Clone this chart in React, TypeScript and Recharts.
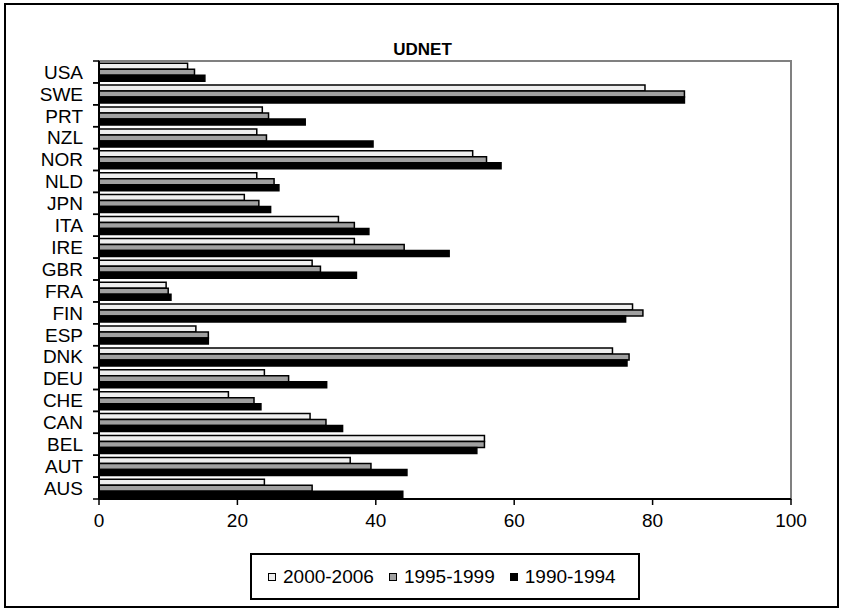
import { BarChart, Bar, XAxis, YAxis, ReferenceArea, Legend } from 'recharts';

// countries, listed top to bottom as drawn
const countries = [
  'USA', 'SWE', 'PRT', 'NZL', 'NOR', 'NLD', 'JPN', 'ITA', 'IRE', 'GBR',
  'FRA', 'FIN', 'ESP', 'DNK', 'DEU', 'CHE', 'CAN', 'BEL', 'AUT', 'AUS',
];

const p2000_2006 = [
  12.8, 78.9, 23.6, 22.8, 54.0, 22.8, 21.0, 34.6, 36.9, 30.8,
  9.7, 77.1, 14.0, 74.2, 23.9, 18.7, 30.5, 55.7, 36.3, 23.9,
];
const p1995_1999 = [
  13.8, 84.6, 24.5, 24.2, 56.0, 25.3, 23.1, 36.9, 44.1, 32.0,
  10.0, 78.6, 15.8, 76.6, 27.4, 22.4, 32.8, 55.7, 39.3, 30.8,
];
const p1990_1994 = [
  15.3, 84.6, 29.8, 39.6, 58.1, 26.0, 24.8, 39.0, 50.6, 37.2,
  10.4, 76.1, 15.8, 76.3, 32.9, 23.4, 35.2, 54.6, 44.5, 43.9,
];

const xTicks = [0, 20, 40, 60, 80, 100];

const series = [
  { key: 'a', name: '2000-2006', fill: '#eeeeee' },
  { key: 'b', name: '1995-1999', fill: '#a0a0a0' },
  { key: 'c', name: '1990-1994', fill: '#000000' },
];

const data = countries.map((c, i) => ({
  country: c,
  a: p2000_2006[i],
  b: p1995_1999[i],
  c: p1990_1994[i],
}));

const W = 843;
const H = 611;
const MARGIN = { top: 61, right: 52, left: 0, bottom: 82 };
const X_AXIS_H = 30;
const Y_AXIS_W = 99;
const FONT = '"Liberation Sans", Arial, sans-serif';
const BAND = (H - MARGIN.top - MARGIN.bottom - X_AXIS_H) / countries.length;

// category label at the band centre, tick marks on the band edges
function CountryTick(props: any) {
  const { x, y, payload } = props;
  const axisX = x + 16;
  return (
    <g>
      <line x1={axisX - 6} x2={axisX} y1={y - BAND / 2} y2={y - BAND / 2} stroke="#000" strokeWidth={1.5} />
      <line x1={axisX - 6} x2={axisX} y1={y + BAND / 2} y2={y + BAND / 2} stroke="#000" strokeWidth={1.5} />
      <text x={x} y={y} dy="0.36em" textAnchor="end" fontSize={19} fontFamily={FONT} fill="#000">
        {payload.value}
      </text>
    </g>
  );
}

function LegendBox() {
  return (
    <div
      style={{
        boxSizing: 'border-box',
        width: 390,
        height: 47,
        border: '2px solid #000',
        background: '#fff',
        display: 'flex',
        alignItems: 'center',
        paddingLeft: 16,
        fontFamily: FONT,
        fontSize: 19,
        color: '#000',
      }}
    >
      {series.map((s) => (
        <div key={s.key} style={{ display: 'flex', alignItems: 'center', marginRight: 15 }}>
          <span
            style={{
              display: 'inline-block',
              boxSizing: 'border-box',
              width: 8,
              height: 8,
              border: '1px solid #000',
              background: s.fill,
              marginRight: 7,
            }}
          />
          <span>{s.name}</span>
        </div>
      ))}
    </div>
  );
}

export default function App() {
  return (
    <div style={{ position: 'absolute', left: 0, top: 0, width: W, height: H, background: '#fff' }}>
      <div
        style={{
          position: 'absolute',
          left: 4,
          top: 3,
          width: 835,
          height: 605,
          boxSizing: 'border-box',
          border: '2px solid #000',
        }}
      />
      <div
        style={{
          position: 'absolute',
          left: 0,
          width: 845,
          top: 40,
          textAlign: 'center',
          fontFamily: FONT,
          fontWeight: 'bold',
          fontSize: 17,
          lineHeight: '20px',
        }}
      >
        UDNET
      </div>
      <div style={{ position: 'absolute', left: 0, top: 0 }}>
        <BarChart
          width={W}
          height={H}
          data={data}
          layout="vertical"
          margin={MARGIN}
          barCategoryGap="10%"
          barGap={0}
        >
          <ReferenceArea x1={0} x2={100} fill="none" fillOpacity={0} stroke="#808080" strokeWidth={2} />
          <XAxis
            type="number"
            domain={[0, 100]}
            ticks={xTicks}
            height={X_AXIS_H}
            tickSize={6}
            tickMargin={9}
            axisLine={{ stroke: '#000', strokeWidth: 2 }}
            tickLine={{ stroke: '#000', strokeWidth: 1.5 }}
            tick={{ fill: '#000', fontSize: 19, fontFamily: FONT }}
          />
          <YAxis
            type="category"
            dataKey="country"
            width={Y_AXIS_W}
            interval={0}
            tickSize={6}
            tickMargin={10}
            axisLine={{ stroke: '#000', strokeWidth: 2 }}
            tickLine={false}
            tick={<CountryTick />}
          />
          <Legend
            layout="horizontal"
            verticalAlign="middle"
            align="center"
            wrapperStyle={{ left: 250, top: 553, width: 390 }}
            content={() => <LegendBox />}
          />
          {series.map((s) => (
            <Bar
              key={s.key}
              dataKey={s.key}
              name={s.name}
              fill={s.fill}
              stroke="#000"
              strokeWidth={1.5}
              isAnimationActive={false}
            />
          ))}
        </BarChart>
      </div>
    </div>
  );
}
